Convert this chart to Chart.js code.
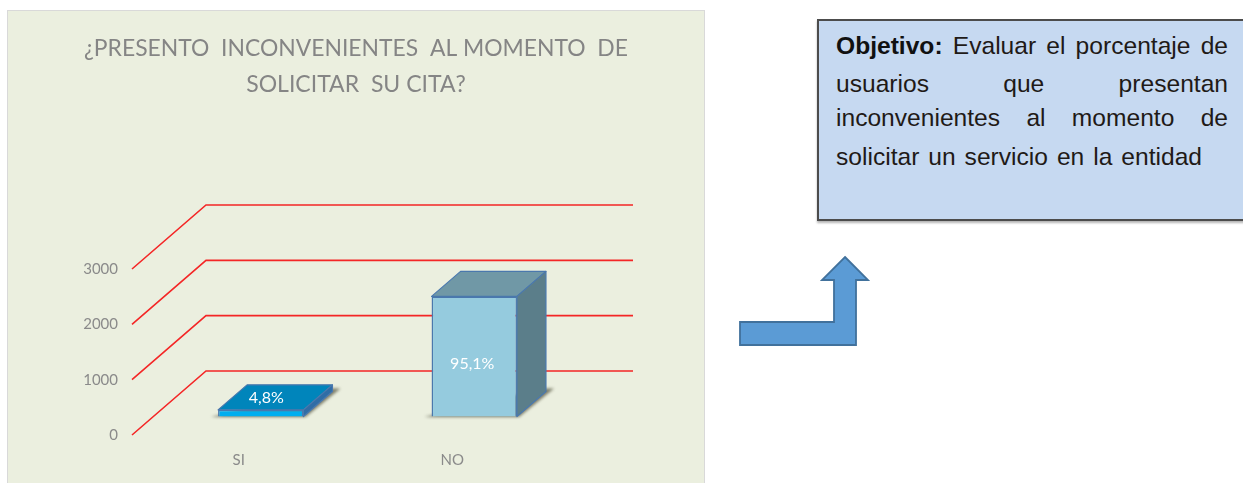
<!DOCTYPE html>
<html lang="es">
<head>
<meta charset="utf-8">
<title>Inconvenientes al solicitar cita</title>
<script src="https://cdn.jsdelivr.net/npm/chart.js@4"></script>
<style>
  html,body{margin:0;padding:0;background:#fff;overflow:hidden}
  #stage{position:relative;width:1243px;height:483px;overflow:hidden}
  #panel{position:absolute;left:8px;top:11px;width:696px;height:472px;background:#ebefdf;box-shadow:0 0 0 1px #d9d9d9}
  #panel canvas{position:absolute;left:0;top:0}
  #box{position:absolute;left:817px;top:19px;width:440px;height:198px;background:#c6d9f1;border:2px solid #4c4c4c;box-shadow:0 2px 2px rgba(90,90,90,.45)}
  .ln{position:absolute;left:836px;width:392px;font:24.6px/28px "Liberation Sans",Arial,sans-serif;color:#1f1a17;white-space:normal;text-align:justify;text-align-last:justify}
  .ln b{color:#111}
  #arrow{position:absolute;left:0;top:0}
</style>
</head>
<body>
<div id="stage">
  <div id="panel"><canvas id="c" width="696" height="472"></canvas></div>
  <div id="box"></div>
  <div class="ln" style="top:32px;"><b>Objetivo:</b> Evaluar el porcentaje de</div>
  <div class="ln" style="top:70px;">usuarios que presentan</div>
  <div class="ln" style="top:104px;">inconvenientes al momento de</div>
  <div class="ln" style="top:143px;width:366px;">solicitar un servicio en la entidad</div>
  <svg id="arrow" width="1243" height="483">
    <polygon points="845,257 868,280 856,280 856,345 740,345 740,322 834,322 834,280 822,280" fill="#5b9bd5" stroke="#41719c" stroke-width="1.8"/>
  </svg>
</div>
<script>
const categories = ["SI", "NO"];
const responses = [120, 2170];
const percentLabels = ["4,8%", "95,1%"];
const valueTicks = [0, 1000, 2000, 3000];
const titleLines = ["¿PRESENTO  INCONVENIENTES  AL MOMENTO  DE", "SOLICITAR  SU CITA?"];

const frontColors = ["#00aeef", "#95cbde"];
const topColors = ["#0085bb", "#7098a6"];
const sideColors = ["#2f6da6", "#5b7e8a"];

// Perspective of the fake 3-D frame
const WALL = {dx: 74, dy: 64};     // front plane to back wall
const BAR_SHIFT = {dx: 22, dy: 18.5}; // front plane to bar front
const BAR_DEPTH = {dx: 29, dy: 25};
const LABEL_OFFSET = [{dx: 5.5, dy: -15.5}, {dx: -2, dy: 7.5}];

const frame3d = {
  id: 'frame3d',
  afterLayout(chart) {
    // the title is centred on the whole panel, not on the padded plot box
    chart.titleBlock.left = 76;
    chart.titleBlock.right = chart.width - 76;
  },
  beforeDatasetsDraw(chart) {
    const {ctx, chartArea: a, scales: {y}} = chart;
    ctx.save();
    ctx.strokeStyle = '#f42626';
    ctx.lineWidth = 1.6;
    ctx.lineJoin = 'miter';
    valueTicks.forEach(v => {
      const py = y.getPixelForValue(v);
      ctx.beginPath();
      ctx.moveTo(a.left, py);
      ctx.lineTo(a.left + WALL.dx, py - WALL.dy);
      ctx.lineTo(a.right + WALL.dx, py - WALL.dy);
      ctx.stroke();
    });
    ctx.restore();
  },
  beforeDatasetDraw(chart, args) {
    const {ctx} = chart;
    ctx.save();
    ctx.translate(BAR_SHIFT.dx, -BAR_SHIFT.dy);
    args.meta.data.forEach((el, i) => {
      const {x, y, base, width} = el.getProps(['x', 'y', 'base', 'width'], true);
      const l = x - width / 2, r = x + width / 2;
      const d = BAR_DEPTH;
      // floor shadow
      ctx.save();
      ctx.filter = 'blur(1.5px)';
      ctx.fillStyle = 'rgba(85,85,65,.75)';
      ctx.beginPath();
      ctx.moveTo(l - 7, base + 0.5);
      ctx.lineTo(r + 2, base + 0.5);
      ctx.lineTo(r + d.dx + 8, base - d.dy - 3);
      ctx.lineTo(r + d.dx - 4, base - d.dy - 3);
      ctx.closePath();
      ctx.fill();
      ctx.restore();
      ctx.strokeStyle = '#4a78ad';
      ctx.lineWidth = 1.2;
      ctx.lineJoin = 'round';
      // top face
      ctx.fillStyle = topColors[i];
      ctx.beginPath();
      ctx.moveTo(l, y);
      ctx.lineTo(l + d.dx, y - d.dy);
      ctx.lineTo(r + d.dx, y - d.dy);
      ctx.lineTo(r, y);
      ctx.closePath();
      ctx.fill();
      ctx.stroke();
      // side face
      ctx.fillStyle = sideColors[i];
      ctx.beginPath();
      ctx.moveTo(r, y);
      ctx.lineTo(r + d.dx, y - d.dy);
      ctx.lineTo(r + d.dx, base - d.dy);
      ctx.lineTo(r, base);
      ctx.closePath();
      ctx.fill();
      ctx.stroke();
    });
  },
  afterDatasetDraw(chart, args) {
    const {ctx} = chart;
    ctx.restore();
    ctx.save();
    ctx.fillStyle = '#ffffff';
    ctx.font = '16px Lato, "Open Sans", sans-serif';
    ctx.textAlign = 'center';
    ctx.textBaseline = 'middle';
    args.meta.data.forEach((el, i) => {
      const {x, y, base} = el.getProps(['x', 'y', 'base'], true);
      const o = LABEL_OFFSET[i];
      ctx.fillText(percentLabels[i], x + BAR_SHIFT.dx + o.dx, (y + base) / 2 - BAR_SHIFT.dy + o.dy);
    });
    ctx.restore();
  }
};

new Chart(document.getElementById('c'), {
  type: 'bar',
  data: {
    labels: categories,
    datasets: [{
      data: responses,
      backgroundColor: frontColors,
      borderColor: '#4a78ad',
      borderWidth: 1.5,
      barPercentage: 0.4,
      categoryPercentage: 1,
      clip: false
    }]
  },
  options: {
    responsive: false,
    animation: false,
    layout: {padding: {left: 0, right: 145, top: 0, bottom: 0}},
    plugins: {
      legend: {display: false},
      tooltip: {enabled: false},
      title: {
        display: true,
        text: titleLines,
        color: '#858585',
        font: {family: 'Lato, "Open Sans", sans-serif', size: 23, weight: 'normal', lineHeight: 1.565},
        padding: {top: 20, bottom: 166}
      }
    },
    scales: {
      y: {
        min: 0,
        max: 3000,
        afterBuildTicks(s) { s.ticks = valueTicks.map(v => ({value: v})); },
        afterFit(s) { s.width = 124; },
        grid: {display: false, drawTicks: false},
        border: {display: false},
        ticks: {color: '#8a8a8a', padding: 14, font: {family: 'Lato, "Open Sans", sans-serif', size: 15}, callback: v => String(v)}
      },
      x: {
        afterFit(s) { s.height = 48; },
        grid: {display: false, drawTicks: false},
        border: {display: false},
        ticks: {color: '#8a8a8a', padding: 16, font: {family: 'Lato, "Open Sans", sans-serif', size: 15}}
      }
    }
  },
  plugins: [frame3d]
});
</script>
</body>
</html>
